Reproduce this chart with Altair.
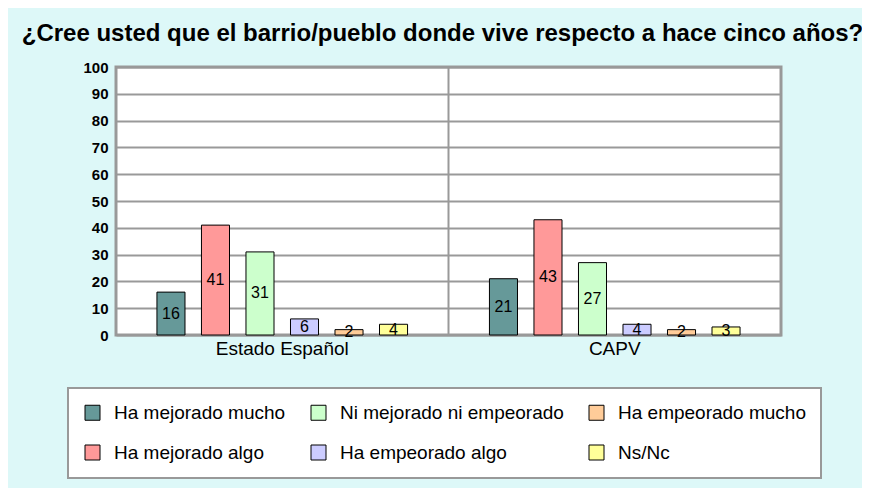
import altair as alt
import pandas as pd

groups = ["Estado Español", "CAPV"]
categories = ["Ha mejorado mucho", "Ha mejorado algo", "Ni mejorado ni empeorado",
              "Ha empeorado algo", "Ha empeorado mucho", "Ns/Nc"]
estado = [16, 41, 31, 6, 2, 4]
capv = [21, 43, 27, 4, 2, 3]
colors = ["#669999", "#FF9999", "#CCFFCC", "#CCCCFF", "#FFCC99", "#FFFF99"]
# legend reading order (3 columns, filled column by column in the reference)
legend_order = [0, 2, 4, 1, 3, 5]

rows = []
for g, vals in zip(groups, [estado, capv]):
    for c, v in zip(categories, vals):
        rows.append({"grupo": g, "cat": c, "valor": v, "mid": v / 2})
df = pd.DataFrame(rows)

FONT = "Liberation Sans"
GRID = "#999999"

x_axis = alt.Axis(labelAngle=0, ticks=False, domain=False, labelFontSize=19,
                  labelFont=FONT, labelColor="black", labelPadding=4,
                  labelAlign="center", labelBaseline="top", grid=False)
x_scale = alt.Scale(paddingInner=0, paddingOuter=0)
y_axis = alt.Axis(values=list(range(0, 101, 10)), ticks=False, domain=False,
                  labelFontSize=15, labelFontWeight="bold", labelFont=FONT,
                  labelColor="black", labelPadding=8, labelOverlap=False,
                  gridColor=GRID, gridWidth=2, gridOpacity=1)
y_scale = alt.Scale(domain=[0, 100], nice=False)
xo_scale = alt.Scale(paddingInner=0.37, paddingOuter=0.92)

base = alt.Chart(df)

bars = base.mark_bar(stroke="black", strokeWidth=1).encode(
    x=alt.X("grupo:N", sort=groups, title=None, scale=x_scale, axis=x_axis),
    xOffset=alt.XOffset("cat:N", sort=categories, scale=xo_scale),
    y=alt.Y("valor:Q", title=None, scale=y_scale, axis=y_axis),
    color=alt.Color("cat:N",
                    scale=alt.Scale(domain=[categories[i] for i in legend_order],
                                    range=[colors[i] for i in legend_order]),
                    legend=alt.Legend(title=None, orient="none", legendX=-48, legendY=321,
                                      columns=3, direction="horizontal",
                                      symbolType="square", symbolSize=225,
                                      symbolStrokeColor="black", symbolStrokeWidth=1,
                                      symbolOpacity=1,
                                      labelFont=FONT, labelFontSize=19, labelColor="black",
                                      labelLimit=400, labelOffset=12,
                                      columnPadding=23, rowPadding=20,
                                      gridAlign="each",
                                      padding=15, fillColor="white",
                                      strokeColor=GRID)),
)

labels = base.mark_text(
    fontSize=16, font=FONT, color="black", baseline="middle", align="center"
).encode(
    x=alt.X("grupo:N", sort=groups, title=None, scale=x_scale, axis=x_axis),
    xOffset=alt.XOffset("cat:N", sort=categories, scale=xo_scale),
    y=alt.Y("mid:Q", title=None, scale=y_scale, axis=y_axis),
    text=alt.Text("valor:Q"),
)

sep = alt.Chart(pd.DataFrame({"grupo": ["CAPV"]})).mark_rule(
    color=GRID, strokeWidth=2
).encode(
    x=alt.X("grupo:N", sort=groups, title=None, scale=x_scale, axis=x_axis,
            bandPosition=0),
)

chart = alt.layer(sep, bars, labels).properties(
    width=665, height=268,
    autosize=alt.AutoSizeParams(type="none"),
    padding={"left": 108, "top": 59, "right": 81, "bottom": 153},
    background="#DDF8F8",
    title=alt.Title("¿Cree usted que el barrio/pueblo donde vive respecto a hace cinco años?",
                    font=FONT, fontSize=24, fontWeight="bold", color="black",
                    anchor="middle", offset=14, dx=-6),
).configure_view(
    stroke=GRID, strokeWidth=3, fill="white"
).configure_legend(
    strokeWidth=2
)

chart.save("out.html", embed_options={"renderer": "svg", "actions": False})
